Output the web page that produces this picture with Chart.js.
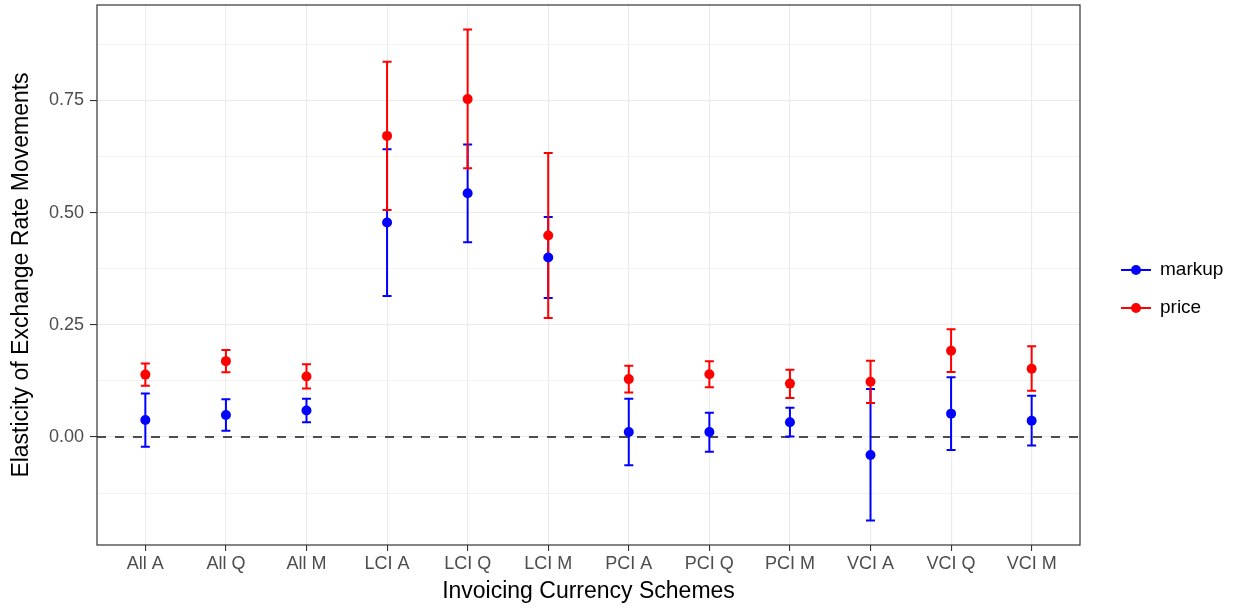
<!DOCTYPE html>
<html>
<head>
<meta charset="utf-8">
<script src="https://cdn.jsdelivr.net/npm/chart.js@4.4.1/dist/chart.umd.min.js"></script>
<style>
html,body{margin:0;padding:0;background:#fff;}
#wrap{width:1238px;height:610px;position:relative;}
</style>
</head>
<body>
<div id="wrap"><canvas id="c" width="1238" height="610"></canvas></div>
<script>
const categories = ["All A","All Q","All M","LCI A","LCI Q","LCI M","PCI A","PCI Q","PCI M","VCI A","VCI Q","VCI M"];

const markupValue = [0.038, 0.049, 0.059, 0.478, 0.543, 0.400, 0.011, 0.011, 0.033, -0.040, 0.052, 0.036];
const markupLower = [-0.022, 0.014, 0.033, 0.314, 0.434, 0.310, -0.063, -0.033, 0.001, -0.186, -0.029, -0.019];
const markupUpper = [0.097, 0.084, 0.085, 0.641, 0.652, 0.490, 0.085, 0.054, 0.065, 0.107, 0.133, 0.092];

const priceValue = [0.139, 0.169, 0.135, 0.671, 0.753, 0.449, 0.129, 0.140, 0.119, 0.123, 0.192, 0.152];
const priceLower = [0.114, 0.144, 0.108, 0.506, 0.599, 0.265, 0.099, 0.111, 0.087, 0.076, 0.145, 0.103];
const priceUpper = [0.164, 0.194, 0.162, 0.836, 0.908, 0.633, 0.159, 0.169, 0.150, 0.170, 0.240, 0.202];

const majorTicks = [0, 0.25, 0.5, 0.75];
const allGridTicks = [-0.125, 0, 0.125, 0.25, 0.375, 0.5, 0.625, 0.75, 0.875];

const allVals = markupLower.concat(markupUpper, priceLower, priceUpper);
const dMin = Math.min(...allVals), dMax = Math.max(...allVals);
const pad = (dMax - dMin) * 0.05;

const FONT = "'Liberation Sans', Arial, Helvetica, sans-serif";
const BLUE = '#0000FF', RED = '#FF0000';

const toPts = arr => arr.map((v, i) => ({ x: i, y: v }));

const errorBarPlugin = {
  id: 'errorBars',
  beforeDatasetsDraw(chart) {
    const ctx = chart.ctx, x = chart.scales.x, y = chart.scales.y;
    const area = chart.chartArea;
    ctx.save();
    ctx.beginPath();
    ctx.rect(area.left, area.top, area.right - area.left, area.bottom - area.top);
    ctx.clip();
    ctx.strokeStyle = '#4d4d4d';
    ctx.lineWidth = 2;
    ctx.setLineDash([9, 9]);
    const y0 = y.getPixelForValue(0);
    ctx.beginPath();
    ctx.moveTo(area.left, y0);
    ctx.lineTo(area.right, y0);
    ctx.stroke();
    ctx.setLineDash([]);
    const sets = [[markupLower, markupUpper, BLUE], [priceLower, priceUpper, RED]];
    sets.forEach(([lo, hi, col]) => {
      ctx.strokeStyle = col;
      ctx.lineWidth = 2;
      lo.forEach((l, i) => {
        const px = x.getPixelForValue(i);
        const pl = y.getPixelForValue(l), ph = y.getPixelForValue(hi[i]);
        ctx.beginPath();
        ctx.moveTo(px, pl); ctx.lineTo(px, ph);
        ctx.moveTo(px - 4.5, pl); ctx.lineTo(px + 4.5, pl);
        ctx.moveTo(px - 4.5, ph); ctx.lineTo(px + 4.5, ph);
        ctx.stroke();
      });
    });
    ctx.restore();
  },
  afterDraw(chart) {
    const ctx = chart.ctx, area = chart.chartArea;
    ctx.save();
    ctx.strokeStyle = '#333333';
    ctx.lineWidth = 1.2;
    ctx.strokeRect(area.left, area.top, area.right - area.left, area.bottom - area.top);
    const items = [['markup', BLUE, 270], ['price', RED, 308]];
    items.forEach(([label, col, ly]) => {
      ctx.strokeStyle = col;
      ctx.lineWidth = 2;
      ctx.beginPath();
      ctx.moveTo(1121, ly); ctx.lineTo(1151, ly);
      ctx.stroke();
      ctx.fillStyle = col;
      ctx.beginPath();
      ctx.arc(1136, ly, 5, 0, Math.PI * 2);
      ctx.fill();
      ctx.fillStyle = '#000';
      ctx.font = '19px ' + FONT;
      ctx.textBaseline = 'middle';
      ctx.textAlign = 'left';
      ctx.fillText(label, 1160, ly);
    });
    ctx.restore();
  }
};

new Chart(document.getElementById('c'), {
  type: 'scatter',
  data: {
    datasets: [
      { label: 'markup', data: toPts(markupValue), pointRadius: 5, pointHoverRadius: 5,
        backgroundColor: BLUE, borderColor: BLUE, pointBorderWidth: 0 },
      { label: 'price', data: toPts(priceValue), pointRadius: 5, pointHoverRadius: 5,
        backgroundColor: RED, borderColor: RED, pointBorderWidth: 0 }
    ]
  },
  options: {
    responsive: false,
    animation: false,
    events: [],
    layout: { padding: { top: 5, right: 158, left: 0, bottom: 0 } },
    plugins: { legend: { display: false }, tooltip: { enabled: false } },
    scales: {
      x: {
        type: 'linear',
        min: -0.6,
        max: categories.length - 1 + 0.6,
        afterFit(s) { s.height = 65; },
        afterBuildTicks(s) { s.ticks = categories.map((c, i) => ({ value: i })); },
        grid: { color: '#EBEBEB', lineWidth: 1.1, tickLength: 6, tickColor: '#333333' },
        border: { display: false },
        ticks: { color: '#4D4D4D', font: { size: 18, family: FONT }, padding: 2, maxRotation: 0, autoSkip: false,
          callback: v => categories[v] },
        title: { display: true, text: 'Invoicing Currency Schemes', color: '#000', font: { size: 23, family: FONT }, padding: { top: 0, bottom: 5 } }
      },
      y: {
        min: dMin - pad,
        max: dMax + pad,
        afterFit(s) { s.width = 97; s.paddingTop = 0; s.paddingBottom = 0; },
        afterBuildTicks(s) { s.ticks = allGridTicks.map(v => ({ value: v })); },
        grid: {
          color: '#EBEBEB',
          lineWidth: c => (c.tick && majorTicks.includes(c.tick.value)) ? 1.1 : 0.6,
          tickLength: 7,
          tickColor: c => (c.tick && majorTicks.includes(c.tick.value)) ? '#333333' : 'rgba(0,0,0,0)'
        },
        border: { display: false },
        ticks: {
          color: '#4D4D4D', font: { size: 18, family: FONT }, padding: 6, autoSkip: false,
          callback: v => majorTicks.includes(v) ? v.toFixed(2) : ''
        },
        title: { display: true, text: 'Elasticity of Exchange Rate Movements', color: '#000', font: { size: 23, family: FONT }, padding: { top: 8, bottom: 2 } }
      }
    }
  },
  plugins: [errorBarPlugin]
});
</script>
</body>
</html>
